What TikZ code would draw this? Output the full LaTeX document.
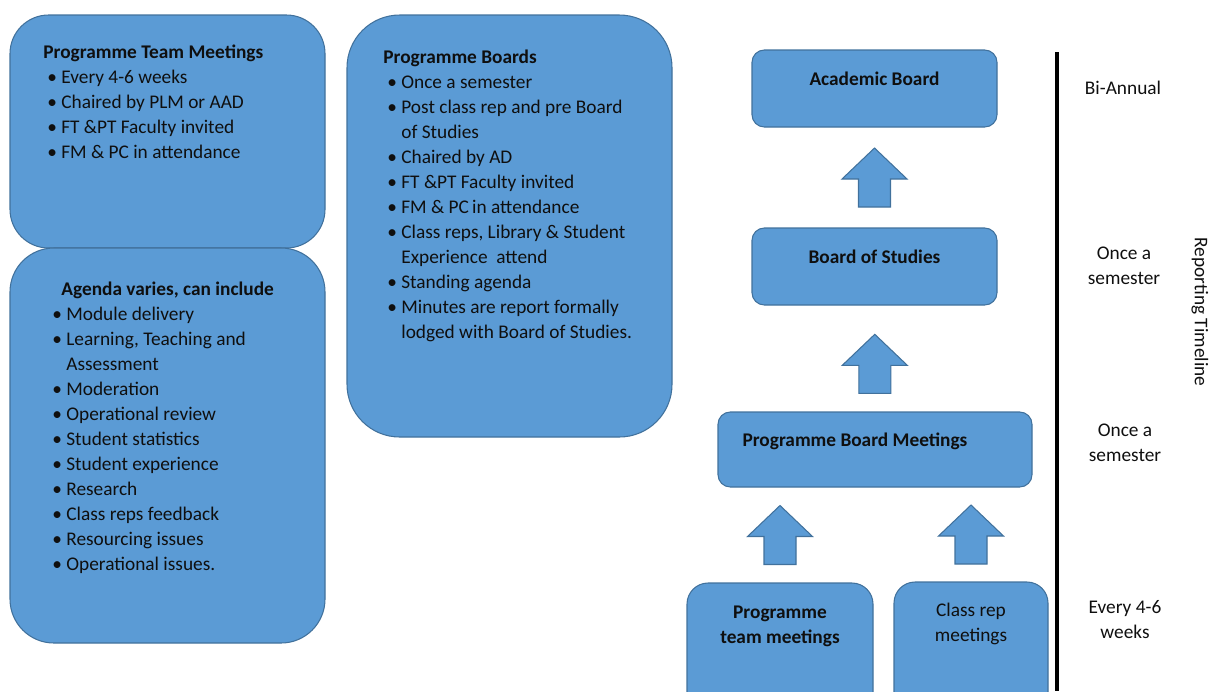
\documentclass[tikz,border=0pt]{standalone}
\usepackage{fontspec}
\setmainfont{Carlito}
\usetikzlibrary{fit,calc}
\newdimen\pxu \pxu=0.02cm
\newcommand\basefont{\fontsize{11}{14.2}\selectfont}
\newcommand\bul{\makebox[18\pxu][l]{\hspace{4\pxu}\textbullet}}
\newcommand\cont{\hspace*{18\pxu}}
\definecolor{boxblue}{RGB}{91,155,213}
\definecolor{boxedge}{RGB}{65,113,156}
\definecolor{inktext}{RGB}{15,15,15}
\tikzset{
  bluebox/.style={draw=boxedge, fill=boxblue, line width=0.6pt, inner sep=0pt},
  listtext/.style={anchor=north west, align=left, inner sep=0pt, text=inktext},
  boxlabel/.style={align=center, inner sep=0pt, text=inktext, font=\basefont\bfseries},
  freqlabel/.style={align=center, inner sep=0pt, text=inktext, font=\basefont},
  pics/blockup/.style={code={
    \draw[bluebox, line join=miter] (-16,29.5) -- (16,29.5) -- (16,1.5) -- (32.5,1.5)
      -- (0,-29.5) -- (-32.5,1.5) -- (-16,1.5) -- cycle;}}
}
\begin{document}
\begin{tikzpicture}[x=0.02cm, y=-0.02cm, font=\basefont]
  \useasboundingbox (0,0) rectangle (1209,691);
  \clip (0,0) rectangle (1209,691);
  % left column
  \node[bluebox, rounded corners=22pt, fit={(10,15) (325,248)}] (ptmbox) {};
  \node[bluebox, rounded corners=25pt, fit={(10,248) (325,643)}] (agenda) {};
  \node[bluebox, rounded corners=30pt, fit={(347,15) (672,437)}] (pboards) {};
  \node[listtext] (ptmlist) at (43,45) {\textbf{Programme Team Meetings}\\
    \bul Every 4-6 weeks\\
    \bul Chaired by PLM or AAD\\
    \bul FT \&PT Faculty invited\\
    \bul FM \& PC in attendance};
  \node[listtext] (aglist) at (48,282) {\hspace*{13\pxu}\textbf{Agenda varies, can include}\\
    \bul Module delivery\\
    \bul Learning, Teaching and\\
    \cont Assessment\\
    \bul Moderation\\
    \bul Operational review\\
    \bul Student statistics\\
    \bul Student experience\\
    \bul Research\\
    \bul Class reps feedback\\
    \bul Resourcing issues\\
    \bul Operational issues.};
  \node[listtext] (pblist) at (383,50) {\textbf{Programme Boards}\\
    \bul Once a semester\\
    \bul Post class rep and pre Board\\
    \cont of Studies\\
    \bul Chaired by AD\\
    \bul FT \&PT Faculty invited\\
    \bul FM \& PC\,in attendance\\
    \bul Class reps, Library \& Student\\
    \cont Experience~ attend\\
    \bul Standing agenda\\
    \bul Minutes are report formally\\
    \cont lodged with Board of Studies.};
  % reporting chain
  \node[bluebox, rounded corners=7pt, fit={(752,50) (997,127)}] (acad) {};
  \node[bluebox, rounded corners=7pt, fit={(752,228) (997,305)}] (bos) {};
  \node[bluebox, rounded corners=7pt, fit={(718,412) (1032,487)}] (pbm) {};
  \node[bluebox, rounded corners=12pt, fit={(687,583) (873,720)}] (ptmeet) {};
  \node[bluebox, rounded corners=12pt, fit={(894,582) (1048,720)}] (crep) {};
  \node[boxlabel] (acadlbl) at (874.5,79) {Academic Board};
  \node[boxlabel] (boslbl) at (874.5,257) {Board of Studies};
  \node[boxlabel] (pbmlbl) at (855,441) {Programme Board Meetings};
  \node[boxlabel] (ptmlbl) at (780,626) {Programme\\team meetings};
  \node[freqlabel] (creplbl) at (971,623.5) {Class rep\\meetings};
  \pic (up1) at ($(acad.south)!0.5!(bos.north)$) {blockup};
  \pic (up2) at ($(bos.south)!0.55!(pbm.north)$) {blockup};
  \pic (up3) at ($(pbm.south -| ptmeet.north)!0.5!(ptmeet.north)$) {blockup};
  \pic (up4) at ($(pbm.south -| crep.north)!0.5!(crep.north)$) {blockup};
  % timeline
  \coordinate (tltop) at (1057,52);
  \coordinate (tlbot) at (1057,691);
  \draw[line width=1.8pt] (tltop) -- (tlbot);
  \node[freqlabel] (freq1) at (1123,88) {Bi-Annual};
  \node[freqlabel] (freq2) at (1124,266) {Once a\\semester};
  \node[freqlabel] (freq3) at (1125,443) {Once a\\semester};
  \node[freqlabel] (freq4) at (1125,619.5) {Every 4-6\\weeks};
  \node[freqlabel, rotate=-90] (tlname) at (1200,312) {Reporting Timeline};
\end{tikzpicture}
\end{document}
